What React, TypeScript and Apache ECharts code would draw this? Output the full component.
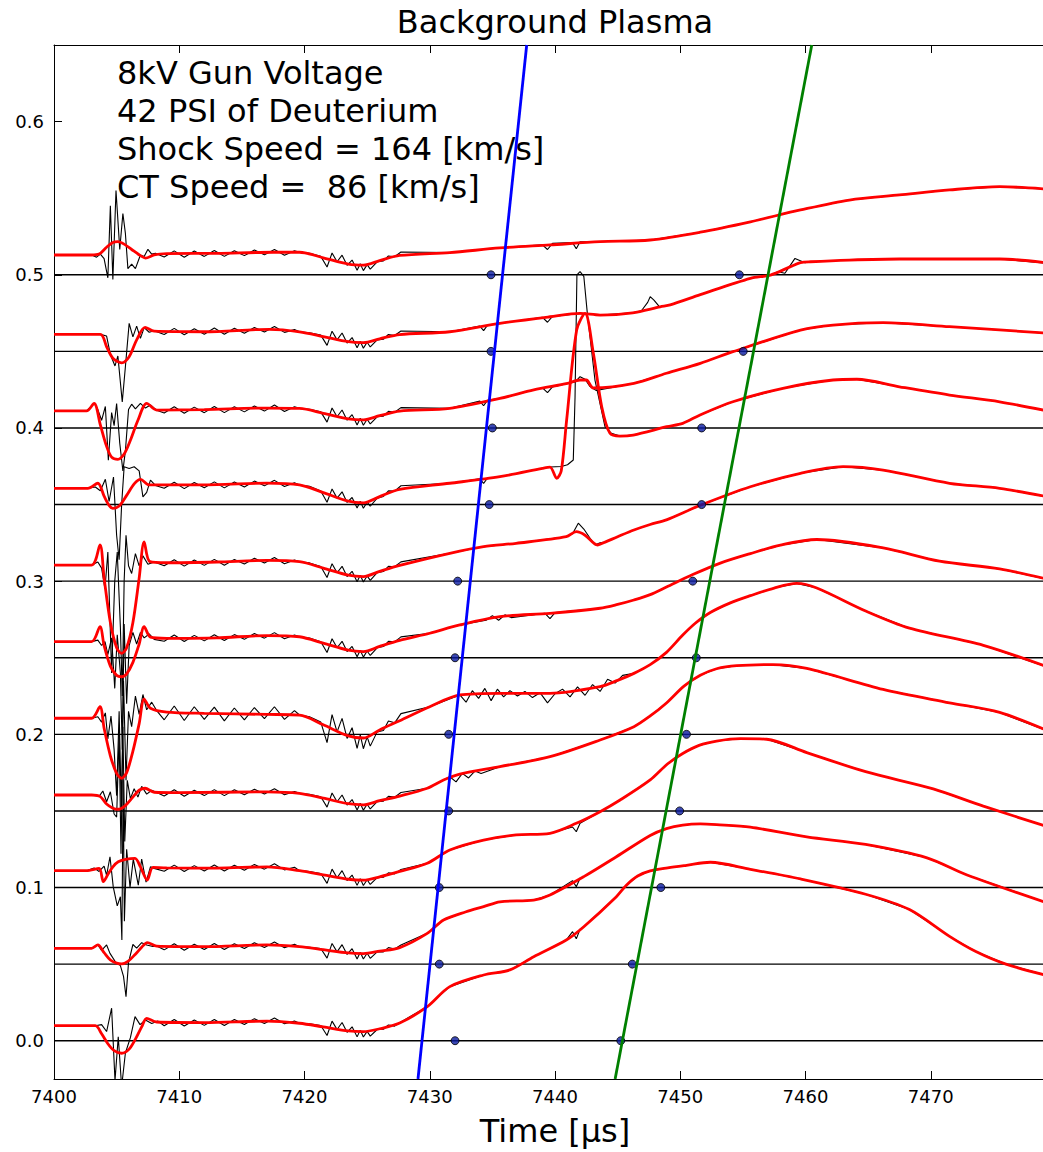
import React, { useEffect, useRef } from 'react';
import * as echarts from 'echarts';

// Time values in the trace arrays are offsets (µs) from T_ORIGIN.
const T_ORIGIN = 7400;
const X_MIN = 7400;
const X_MAX = 7480;
const X_INTERVAL = 10;
const Y_MIN = -0.025;
const Y_MAX = 0.65;
const yTickValues = [0, 0.1, 0.2, 0.3, 0.4, 0.5, 0.6];
const baselines = [0, 0.05, 0.1, 0.15, 0.2, 0.25, 0.3, 0.35, 0.4, 0.45, 0.5];

const titleText = 'Background Plasma';
const xAxisTitle = 'Time [μs]';
const annotationLines = ['8kV Gun Voltage', '42 PSI of Deuterium', 'Shock Speed = 164 [km/s]', 'CT Speed =  86 [km/s]'];

// arrival markers (absolute time), one per baseline
const shockDotT = [7432.02, 7430.76, 7430.76, 7431.51, 7431.51, 7432.02, 7432.23, 7434.75, 7435.0, 7434.89, 7434.89];
const ctDotT = [7445.25, 7446.17, 7448.45, 7449.95, 7450.5, 7451.28, 7451.0, 7451.71, 7451.71, 7455.03, 7454.72];

// fitted speed lines (end points on the frame)
const shockLine = [[7429.06, -0.025], [7437.74, 0.65]];
const ctLine = [[7444.8, -0.025], [7460.5, 0.65]];

// smoothed (red) traces
const red0 = [[0,0.0098],[3.3,0.0098],[3.8,0.0045],[4.3,-0.002],[4.8,-0.0065],[5.4,-0.0082],[6.0,-0.0055],[6.5,0.001],[7.0,0.009],[7.4,0.0146],[8.2,0.0122],[12,0.0118],[17,0.0128],[19.6,0.0114],[21.5,0.009],[23.5,0.0064],[24.7,0.0059],[26.0,0.0078],[27.6,0.0115],[29.8,0.0222],[31.6,0.0353],[34.3,0.0429],[36.4,0.0462],[38.3,0.0548],[40.9,0.0657],[42.3,0.0744],[44.9,0.094],[45.7,0.1015],[46.6,0.1075],[47.6,0.1108],[49.0,0.1128],[50.5,0.1145],[52.4,0.1165],[55.6,0.1119],[59.6,0.1056],[64.8,0.0956],[68.3,0.0856],[71.5,0.0681],[73.6,0.0582],[76.0,0.050],[80,0.041]];
const red1 = [[0,0.0603],[3.0,0.0603],[3.5,0.0625],[4.0,0.0575],[4.5,0.0527],[5.0,0.0506],[5.4,0.0501],[5.9,0.0518],[6.5,0.0565],[7.0,0.061],[7.45,0.064],[8.2,0.0618],[12,0.0614],[17,0.0625],[19.6,0.0614],[21.5,0.0594],[23.5,0.0573],[24.7,0.0569],[26.0,0.0585],[27.6,0.0608],[29.8,0.0701],[31.1,0.0788],[32.9,0.0842],[34.3,0.0875],[35.6,0.0907],[38.3,0.0918],[39.6,0.0951],[42.3,0.1071],[44.9,0.1201],[47.6,0.134],[48.9,0.1385],[50.2,0.1408],[51.6,0.1416],[52.9,0.1411],[55.6,0.1394],[60.1,0.1331],[64.8,0.1281],[69.7,0.1194],[72.9,0.1082],[80,0.088]];
const red2 = [[0,0.111],[2.6,0.111],[3.6,0.1125],[3.94,0.1038],[4.3,0.1085],[4.7,0.1135],[5.13,0.1168],[5.8,0.1185],[6.47,0.119],[6.9,0.1135],[7.45,0.1049],[7.9,0.1132],[9,0.1128],[13,0.1127],[17,0.1135],[19.6,0.111],[21.5,0.1083],[23.5,0.1054],[24.7,0.1048],[26.0,0.107],[27.6,0.1105],[29.8,0.1158],[31.6,0.1245],[34.3,0.131],[36.9,0.1343],[39.6,0.1354],[41.7,0.1419],[43.6,0.1495],[45.2,0.1571],[47.6,0.1702],[49.0,0.1808],[50.2,0.1875],[51.5,0.1928],[52.9,0.1956],[54.8,0.1972],[56.9,0.1968],[60.1,0.1881],[64.8,0.1756],[70.2,0.1644],[74.2,0.1531],[80,0.138]];
const red3 = [[0,0.1604],[3.0,0.1604],[3.67,0.1595],[4.2,0.1545],[4.7,0.1518],[5.13,0.1511],[5.7,0.1535],[6.3,0.159],[6.8,0.1635],[7.27,0.1648],[8.0,0.1622],[10,0.1619],[17,0.1625],[19.6,0.1615],[21.5,0.1583],[23.5,0.1547],[24.7,0.154],[26.0,0.1567],[27.6,0.1597],[29.8,0.1648],[31.1,0.1702],[32.4,0.174],[35.6,0.1789],[39.6,0.1854],[43.6,0.1963],[46.3,0.205],[47.6,0.212],[48.9,0.2205],[50.3,0.2315],[51.6,0.2385],[52.9,0.2428],[54.5,0.2448],[57.4,0.2455],[60.1,0.243],[66.2,0.2293],[71.5,0.2206],[75.5,0.2143],[80,0.2]];
const red4 = [[0,0.2105],[3.0,0.2105],[3.67,0.218],[4.0,0.204],[4.5,0.186],[5.0,0.1745],[5.4,0.1713],[5.8,0.175],[6.3,0.189],[6.8,0.207],[7.2,0.223],[7.7,0.217],[9,0.2145],[12,0.2137],[17,0.213],[19.6,0.2126],[21.5,0.2062],[23.5,0.199],[24.7,0.1976],[26.0,0.2029],[27.6,0.2089],[30.0,0.218],[32.4,0.2257],[35.6,0.2268],[39.6,0.2268],[43.6,0.2311],[45.0,0.2352],[46.3,0.2398],[47.6,0.2455],[48.9,0.2535],[50.2,0.2648],[51.2,0.2725],[52.4,0.2795],[54.0,0.2858],[55.6,0.2905],[57.5,0.2955],[59.3,0.2985],[60.9,0.2955],[64.8,0.2805],[68.3,0.2693],[74.2,0.2581],[80,0.242]];
const red5 = [[0,0.2605],[3.0,0.2605],[3.67,0.2703],[4.0,0.258],[4.5,0.2445],[5.0,0.2385],[5.4,0.2376],[5.8,0.2395],[6.3,0.247],[6.8,0.259],[7.2,0.2703],[7.7,0.2635],[9,0.2627],[13,0.263],[17,0.2645],[19.6,0.2637],[21.5,0.2595],[23.5,0.2549],[24.7,0.254],[26.0,0.2574],[27.6,0.2613],[30.0,0.266],[32.4,0.2714],[35.6,0.2768],[39.6,0.279],[43.6,0.2823],[45.0,0.2848],[46.3,0.2877],[47.6,0.2912],[48.9,0.2962],[51.0,0.3043],[53.2,0.3118],[55.6,0.318],[58.0,0.3235],[60.9,0.3272],[66.2,0.3217],[70.7,0.313],[75.5,0.308],[80,0.300]];
const red6 = [[0,0.3105],[3.0,0.3105],[3.67,0.3236],[4.0,0.302],[4.5,0.273],[5.0,0.2565],[5.4,0.2529],[5.8,0.2565],[6.3,0.273],[6.8,0.302],[7.2,0.3257],[7.66,0.3127],[9,0.312],[13,0.3125],[17,0.3135],[19.6,0.3127],[21.5,0.3085],[23.5,0.3039],[24.7,0.303],[26.0,0.3064],[27.6,0.3103],[31.6,0.3182],[34.3,0.3225],[36.9,0.3247],[40.9,0.329],[41.7,0.3323],[42.4,0.330],[43.4,0.3236],[44.0,0.3255],[45.0,0.329],[46.3,0.3334],[47.6,0.337],[48.9,0.340],[51.6,0.3495],[55.6,0.3616],[59.6,0.3704],[63.0,0.3747],[66.2,0.3725],[71.5,0.3639],[75.5,0.3606],[80,0.354]];
const red7 = [[0,0.3606],[2.7,0.3606],[3.5,0.3639],[4.0,0.3555],[4.4,0.3495],[4.7,0.3475],[5.2,0.349],[5.8,0.356],[6.4,0.3635],[6.9,0.3665],[7.6,0.3628],[9,0.3628],[13,0.363],[17,0.364],[19.6,0.3628],[21.5,0.3578],[23.5,0.3522],[24.7,0.3511],[26.0,0.3552],[27.6,0.3599],[31.6,0.3639],[35.6,0.3682],[39.0,0.3737],[39.6,0.3745],[40.14,0.3671],[40.5,0.372],[40.93,0.4052],[41.73,0.4639],[42.4,0.4748],[43.06,0.4489],[43.73,0.4139],[44.39,0.3965],[45.19,0.3947],[46.25,0.3954],[48.92,0.4008],[50.2,0.403],[51.58,0.4085],[54.2,0.4171],[58.2,0.4259],[62.2,0.4313],[64.1,0.4318],[67.5,0.4269],[71.5,0.4215],[75.5,0.4171],[80,0.410]];
const red8 = [[0,0.4111],[2.6,0.4111],[3.2,0.4161],[3.7,0.402],[4.2,0.388],[4.6,0.381],[5.1,0.3795],[5.6,0.383],[6.1,0.392],[6.7,0.405],[7.4,0.4161],[8.2,0.4117],[12,0.412],[17,0.413],[19.6,0.4128],[21.5,0.4096],[23.5,0.406],[24.7,0.4053],[26.0,0.408],[27.6,0.411],[31.6,0.4128],[35.6,0.4193],[38.3,0.4248],[41.0,0.4291],[42.0,0.4313],[42.5,0.4313],[43.06,0.4261],[46.3,0.4291],[48.9,0.4357],[51.6,0.4422],[54.2,0.4498],[59.6,0.4639],[62.2,0.4672],[66.2,0.4687],[71.5,0.4661],[80,0.4615]];
const red9 = [[0,0.4611],[3.7,0.4611],[4.2,0.453],[4.7,0.4455],[5.4,0.4425],[6.0,0.4465],[6.6,0.4575],[7.27,0.4657],[8.0,0.4632],[12,0.4628],[17.2,0.4644],[19.6,0.4628],[21.5,0.4597],[23.5,0.4563],[24.7,0.4557],[26.0,0.4582],[27.6,0.461],[31.6,0.4628],[35.6,0.4683],[39.6,0.4726],[42.0,0.4748],[43.6,0.4737],[46.2,0.4752],[48.4,0.4791],[49.2,0.4803],[51.6,0.487],[55.6,0.4977],[57.2,0.4998],[58.8,0.5053],[59.6,0.5079],[60.4,0.5085],[63.5,0.5096],[67.5,0.5103],[75.5,0.5103],[80,0.507]];
const red10 = [[0,0.5129],[3.0,0.5129],[3.6,0.5135],[4.2,0.518],[4.7,0.521],[5.1,0.5216],[5.6,0.52],[6.2,0.5165],[6.9,0.5125],[7.3,0.5109],[8.0,0.513],[9,0.5138],[13,0.514],[17.5,0.5147],[19.6,0.5147],[21.5,0.5111],[23.5,0.507],[24.7,0.5063],[26.0,0.5092],[27.6,0.5126],[31.6,0.5145],[35.6,0.5175],[39.6,0.5195],[43.6,0.5216],[47.6,0.5227],[51.6,0.5278],[55.6,0.5346],[59.6,0.5423],[63.5,0.5488],[67.5,0.5521],[71.5,0.5554],[75.5,0.5575],[80,0.5555]];
const redTraces = [red0, red1, red2, red3, red4, red5, red6, red7, red8, red9, red10];

// raw (black) traces: gun-fire spike region
const blackSpike = [
  [[3.3,0.0098],[3.8,0.0105],[4.2,0.006],[4.6,0.0212],[4.87,-0.026],[5.13,0.0026],[5.4,-0.03],[5.7,-0.008],[6.1,0.002],[6.47,0.0157],[6.87,0.0105],[7.3,0.0135],[7.8,0.0112],[8.3,0.0128]],
  [[3.0,0.0603],[3.5,0.0625],[3.8,0.059],[4.2,0.0625],[4.47,0.057],[4.9,0.0515],[5.3,0.049],[5.55,0.042],[5.75,0.0287],[5.95,0.051],[6.3,0.0628],[6.6,0.0605],[7.0,0.064],[7.4,0.0625],[7.9,0.0615]],
  [[2.6,0.111],[3.2,0.1128],[3.6,0.1105],[4.0,0.114],[4.2,0.108],[4.47,0.1201],[4.73,0.1004],[5.05,0.088],[5.3,0.094],[5.42,0.0657],[5.52,0.17],[5.62,0.078],[5.8,0.125],[6.07,0.1],[6.33,0.1185],[6.73,0.1015],[7.0,0.1185],[7.35,0.1035],[7.7,0.1135],[8.0,0.1125]],
  [[3.0,0.1604],[3.6,0.1595],[3.9,0.163],[4.2,0.156],[4.5,0.1625],[4.8,0.148],[5.0,0.146],[5.2,0.2],[5.35,0.122],[5.5,0.205],[5.65,0.13],[5.85,0.17],[6.1,0.158],[6.4,0.1645],[6.7,0.159],[7.0,0.166],[7.4,0.161],[7.8,0.1635],[8.2,0.162]],
  [[3.0,0.2105],[3.5,0.2115],[3.8,0.208],[4.1,0.214],[4.3,0.197],[4.55,0.212],[4.8,0.19],[5.0,0.16],[5.2,0.215],[5.38,0.15],[5.55,0.235],[5.75,0.17],[5.95,0.215],[6.2,0.205],[6.5,0.225],[6.8,0.213],[7.1,0.226],[7.4,0.216],[7.8,0.221],[8.2,0.2155]],
  [[3.0,0.2605],[3.5,0.2615],[3.8,0.258],[4.07,0.2605],[4.3,0.252],[4.6,0.263],[4.85,0.23],[5.05,0.265],[5.3,0.24],[5.45,0.19],[5.6,0.272],[5.8,0.22],[6.0,0.258],[6.3,0.2665],[6.6,0.259],[6.9,0.2665],[7.2,0.263],[7.6,0.2655],[8.0,0.262]],
  [[3.0,0.3105],[3.5,0.3125],[3.8,0.3085],[4.07,0.295],[4.3,0.319],[4.6,0.24],[4.85,0.3],[5.05,0.319],[5.3,0.27],[5.45,0.225],[5.6,0.3],[5.75,0.33],[5.95,0.31],[6.2,0.305],[6.5,0.318],[6.8,0.31],[7.1,0.3165],[7.5,0.311],[8.0,0.3125]],
  [[2.7,0.3606],[3.3,0.3615],[3.7,0.359],[4.1,0.3665],[4.4,0.352],[4.75,0.368],[5.0,0.33],[5.2,0.314],[5.4,0.35],[5.6,0.3747],[6.0,0.3735],[6.4,0.3747],[6.8,0.372],[7.1,0.355],[7.4,0.358],[7.7,0.366],[8.1,0.3625]],
  [[2.6,0.4111],[3.2,0.4161],[3.5,0.412],[3.8,0.405],[4.1,0.414],[4.34,0.379],[4.6,0.41],[4.8,0.4015],[5.0,0.416],[5.25,0.39],[5.5,0.372],[5.7,0.385],[5.95,0.412],[6.2,0.4155],[6.5,0.4125],[6.9,0.416],[7.3,0.413],[7.7,0.415],[8.2,0.4115]],
  [[3.7,0.4611],[4.2,0.460],[4.5,0.448],[4.87,0.4405],[5.1,0.447],[5.45,0.417],[5.7,0.44],[6.0,0.4683],[6.3,0.4595],[6.6,0.4665],[6.9,0.4585],[7.2,0.4655],[7.6,0.4625],[8.0,0.4635]],
  [[3.0,0.5129],[3.4,0.5115],[3.7,0.5135],[4.0,0.5105],[4.3,0.498],[4.5,0.545],[4.7,0.497],[4.95,0.555],[5.25,0.5166],[5.5,0.54],[5.7,0.527],[5.9,0.504],[6.2,0.507],[6.5,0.504],[6.9,0.5129],[7.2,0.512],[7.5,0.5166],[7.8,0.5135],[8.1,0.514]],
];

// raw traces: ripple on the flat part
const flatT = [8.8, 9.6, 10.4, 11.2, 12.0, 12.8, 13.6, 14.4, 15.2, 16.0, 16.8, 17.6, 18.4, 19.2];
const blackFlat = [
  [0.0098, 0.0138, 0.0096, 0.0135, 0.01, 0.0138, 0.0099, 0.0138, 0.0106, 0.0144, 0.0112, 0.0148, 0.0111, 0.0128],
  [0.0593, 0.0633, 0.0591, 0.063, 0.0595, 0.0634, 0.0595, 0.0633, 0.0602, 0.064, 0.0608, 0.0644, 0.0607, 0.063],
  [0.1106, 0.1146, 0.1104, 0.1143, 0.1108, 0.1147, 0.1108, 0.1146, 0.1113, 0.1151, 0.112, 0.1155, 0.1115, 0.1132],
  [0.1598, 0.1638, 0.1596, 0.1635, 0.16, 0.1639, 0.16, 0.1638, 0.1605, 0.1642, 0.161, 0.1645, 0.1606, 0.1627],
  [0.2095, 0.2185, 0.209, 0.218, 0.2098, 0.2178, 0.2088, 0.2172, 0.2095, 0.2175, 0.2102, 0.218, 0.2098, 0.2155],
  [0.2608, 0.2648, 0.2606, 0.2646, 0.261, 0.265, 0.2612, 0.2651, 0.262, 0.2658, 0.2628, 0.2664, 0.2624, 0.2648],
  [0.31, 0.314, 0.3098, 0.3138, 0.3103, 0.3142, 0.3104, 0.3142, 0.3112, 0.315, 0.3118, 0.3154, 0.3114, 0.3138],
  [0.3606, 0.3646, 0.3604, 0.3644, 0.361, 0.3648, 0.3609, 0.3647, 0.3615, 0.3653, 0.3622, 0.3658, 0.3618, 0.3642],
  [0.4098, 0.4138, 0.4096, 0.4136, 0.41, 0.414, 0.41, 0.4138, 0.4105, 0.4143, 0.411, 0.415, 0.4108, 0.4138],
  [0.461, 0.465, 0.4608, 0.4648, 0.4612, 0.4652, 0.4612, 0.4651, 0.4618, 0.4656, 0.4626, 0.4662, 0.4624, 0.4642],
  [0.5116, 0.5156, 0.5114, 0.5155, 0.512, 0.5158, 0.512, 0.5157, 0.5125, 0.5162, 0.513, 0.5165, 0.5128, 0.5157],
];

// raw traces: noisy dip near 7425 µs
const dipT = [20.4, 21.3, 21.8, 22.2, 22.6, 23.0, 23.4, 23.8, 24.2, 24.45, 24.7, 25.0, 25.25, 25.8, 26.3, 26.7, 27.2, 27.7];
const blackDip = [
  [0.011, 0.0099, 0.0034, 0.0128, 0.0073, 0.0119, 0.0055, 0.0091, 0.0025, 0.0069, 0.0024, 0.0061, 0.003, 0.0073, 0.0075, 0.0103, 0.0095, 0.0123],
  [0.061, 0.0602, 0.0539, 0.0635, 0.058, 0.0627, 0.0563, 0.0601, 0.0534, 0.0578, 0.0533, 0.0571, 0.0538, 0.058, 0.058, 0.0608, 0.0599, 0.0625],
  [0.1105, 0.1092, 0.1027, 0.112, 0.1064, 0.111, 0.1045, 0.1081, 0.1014, 0.1058, 0.1013, 0.1051, 0.102, 0.1064, 0.1067, 0.1096, 0.1089, 0.1118],
  [0.1609, 0.1592, 0.1525, 0.1617, 0.156, 0.1604, 0.1538, 0.1574, 0.1506, 0.155, 0.1505, 0.1544, 0.1513, 0.156, 0.1564, 0.1595, 0.159, 0.162],
  [0.2114, 0.208, 0.1946, 0.2129, 0.2016, 0.2104, 0.1973, 0.2043, 0.1909, 0.1996, 0.1906, 0.1983, 0.1923, 0.2016, 0.2025, 0.2087, 0.2075, 0.2135],
  [0.2629, 0.2605, 0.2534, 0.2624, 0.2565, 0.2607, 0.254, 0.2574, 0.2506, 0.2549, 0.2504, 0.2544, 0.2515, 0.2565, 0.2573, 0.2607, 0.2604, 0.2636],
  [0.3119, 0.3095, 0.3024, 0.3114, 0.3055, 0.3097, 0.303, 0.3064, 0.2996, 0.3039, 0.2994, 0.3034, 0.3005, 0.3055, 0.3063, 0.3097, 0.3094, 0.3126],
  [0.3619, 0.3589, 0.3515, 0.3602, 0.3542, 0.3583, 0.3514, 0.3546, 0.3478, 0.3521, 0.3476, 0.3516, 0.3489, 0.3542, 0.3553, 0.3589, 0.3588, 0.3623],
  [0.4122, 0.4105, 0.4038, 0.413, 0.4073, 0.4117, 0.4051, 0.4087, 0.4019, 0.4063, 0.4018, 0.4057, 0.4026, 0.4073, 0.4077, 0.4108, 0.4103, 0.4133],
  [0.4622, 0.4606, 0.4539, 0.4632, 0.4575, 0.462, 0.4554, 0.459, 0.4523, 0.4566, 0.4521, 0.456, 0.4529, 0.4575, 0.4579, 0.461, 0.4604, 0.4633],
  [0.514, 0.512, 0.5051, 0.5142, 0.5085, 0.5128, 0.5062, 0.5096, 0.5029, 0.5072, 0.5027, 0.5066, 0.5037, 0.5085, 0.5091, 0.5123, 0.5118, 0.5149],
];

// raw traces: other visible excursions from the smooth curve
const blackExtra = [
  [[[41.4,0.0712],[41.7,0.0665],[42.0,0.0728]]],
  [[[41.4,0.1045],[41.7,0.1005],[42.0,0.106]]],
  [[[41.4,0.1395],[41.7,0.1364],[42.0,0.142]]],
  [[[31.6,0.1723],[32.1,0.169],[32.6,0.1745],[33.1,0.1715],[33.6,0.176],[34.1,0.1745]]],
  [[[32.4,0.2257],[32.9,0.221],[33.4,0.2285],[33.9,0.2235],[34.4,0.23],[34.9,0.222],[35.4,0.2295],[35.9,0.2245],[36.4,0.2285],[37.0,0.225],[37.6,0.228],[38.2,0.224],[38.8,0.2272],[39.4,0.2205],[40.0,0.2265],[40.6,0.2295],[41.2,0.2245],[41.8,0.231],[42.4,0.2255],[43.0,0.2325],[43.6,0.228],[44.2,0.236],[44.8,0.2335],[45.4,0.2385]]],
  [[[34.5,0.2745],[35.0,0.2775],[35.5,0.2745],[36.0,0.278],[36.5,0.2762]], [[39.2,0.279],[39.6,0.2755],[40.0,0.2795]]],
  [[[40.9,0.329],[41.4,0.331],[41.86,0.3378],[42.3,0.334],[42.8,0.328],[43.2,0.3236],[43.6,0.3251]]],
  [[[34.0,0.3668],[34.3,0.3638],[34.6,0.3672]], [[39.6,0.3745],[40.5,0.3748],[41.0,0.376],[41.46,0.3791],[41.6,0.42],[41.75,0.5],[42.0,0.502],[42.3,0.499],[42.58,0.475],[43.19,0.4313],[43.99,0.4008],[44.5,0.3965]]],
  [[[34.0,0.4175],[34.3,0.4145],[34.6,0.418]], [[39.0,0.4262],[39.4,0.423],[39.8,0.4268]], [[41.0,0.4291],[41.6,0.430],[42.0,0.4335],[42.4,0.4318],[42.8,0.427],[43.3,0.4245]]],
  [[[34.0,0.4665],[34.3,0.4635],[34.6,0.467]], [[39.0,0.4722],[39.4,0.469],[39.8,0.4728]], [[46.2,0.4752],[46.9,0.4765],[47.4,0.482],[47.6,0.4857],[47.9,0.4835],[48.3,0.4795]], [[57.8,0.502],[58.36,0.501],[59.16,0.5107],[59.96,0.5079],[60.4,0.5085]]],
  [[[39.0,0.5195],[39.4,0.5165],[39.8,0.5205]], [[41.4,0.521],[41.7,0.517],[42.0,0.5215]]],
];

const FONT = 'DejaVu Sans';

function zip(ts: number[], vs: number[]) {
  return ts.map((t, k) => [t, vs[k]]);
}

function buildBlack(i: number) {
  const segs: number[][][] = [blackSpike[i], zip(flatT, blackFlat[i]), zip(dipT, blackDip[i]), ...blackExtra[i]];
  const windows = segs.map((s) => [s[0][0], s[s.length - 1][0]]);
  const keep = redTraces[i].filter(([t]) => !windows.some(([a, b]) => t >= a && t <= b));
  return [...keep, ...segs.flat()]
    .sort((p, q) => p[0] - q[0])
    .map(([t, v]) => [t + T_ORIGIN, v]);
}

function buildOption() {
  const series: any[] = [];
  baselines.forEach((b) => {
    series.push({
      type: 'line', data: [[X_MIN, b], [X_MAX, b]], showSymbol: false, silent: true, z: 1,
      lineStyle: { color: '#000', width: 1.4 },
    });
  });
  redTraces.forEach((_, i) => {
    series.push({
      type: 'line', data: buildBlack(i), showSymbol: false, silent: true, z: 2, clip: true,
      lineStyle: { color: '#000', width: 1.1 },
    });
  });
  redTraces.forEach((r) => {
    series.push({
      type: 'line', data: r.map(([t, v]) => [t + T_ORIGIN, v]), showSymbol: false, silent: true, z: 3,
      smooth: 0.3, clip: true, lineStyle: { color: '#ff0000', width: 2.8 },
    });
  });
  [shockDotT, ctDotT].forEach((arr) => {
    series.push({
      type: 'scatter', data: arr.map((t, i) => [t, baselines[i]]), symbolSize: 8, z: 4, silent: true,
      itemStyle: { color: '#0a1aa0', borderColor: '#000', borderWidth: 1 },
    });
  });
  series.push({ type: 'line', data: shockLine, showSymbol: false, silent: true, z: 5, lineStyle: { color: '#0000ff', width: 2.8 } });
  series.push({ type: 'line', data: ctLine, showSymbol: false, silent: true, z: 5, lineStyle: { color: '#008000', width: 2.8 } });

  const axisCommon = {
    type: 'value', min: X_MIN, max: X_MAX, interval: X_INTERVAL,
    axisLine: { show: true, onZero: false, lineStyle: { color: '#000', width: 1 } },
    axisTick: { show: true, inside: true, length: 8, lineStyle: { color: '#000', width: 1 } },
    splitLine: { show: false },
  };

  return {
    animation: false,
    backgroundColor: '#fff',
    grid: { left: 54, top: 45, width: 1002, height: 1034, containLabel: false },
    xAxis: [
      {
        ...axisCommon, position: 'bottom',
        axisLabel: {
          show: true, color: '#000', fontSize: 18, fontFamily: FONT, margin: 8, showMaxLabel: false,
          formatter: (v: number) => String(Math.round(v)),
        },
      },
      { ...axisCommon, position: 'top', axisLabel: { show: false } },
    ],
    yAxis: {
      type: 'value', min: Y_MIN, max: Y_MAX,
      axisLine: { show: true, onZero: false, lineStyle: { color: '#000', width: 1 } },
      axisTick: { show: true, inside: true, length: 8, customValues: yTickValues, lineStyle: { color: '#000' } },
      axisLabel: {
        show: true, customValues: yTickValues, color: '#000', fontSize: 18, fontFamily: FONT, margin: 10,
        formatter: (v: number) => v.toFixed(1),
      },
      splitLine: { show: false },
    },
    graphic: [
      {
        type: 'text', x: 555, y: 22, silent: true,
        style: { text: titleText, fontSize: 32, fontFamily: FONT, fill: '#000', align: 'center', verticalAlign: 'middle' },
      },
      ...annotationLines.map((line, k) => ({
        type: 'text', x: 117, y: 73 + 38 * k, silent: true,
        style: { text: line, fontSize: 32, fontFamily: FONT, fill: '#000', align: 'left', verticalAlign: 'middle' },
      })),
      {
        type: 'text', x: 555, y: 1131, silent: true,
        style: { text: xAxisTitle, fontSize: 32, fontFamily: FONT, fill: '#000', align: 'center', verticalAlign: 'middle' },
      },
    ],
    series,
  };
}

export default function App() {
  const ref = useRef<HTMLDivElement>(null);
  useEffect(() => {
    if (!ref.current) return;
    const chart = echarts.init(ref.current, null, { renderer: 'svg' });
    chart.setOption(buildOption() as any);
    return () => chart.dispose();
  }, []);
  return (
    <div style={{ position: 'absolute', left: 0, top: 0, width: 1043, height: 1152, overflow: 'hidden', background: '#fff' }}>
      <div ref={ref} style={{ width: 1060, height: 1152 }} />
    </div>
  );
}
